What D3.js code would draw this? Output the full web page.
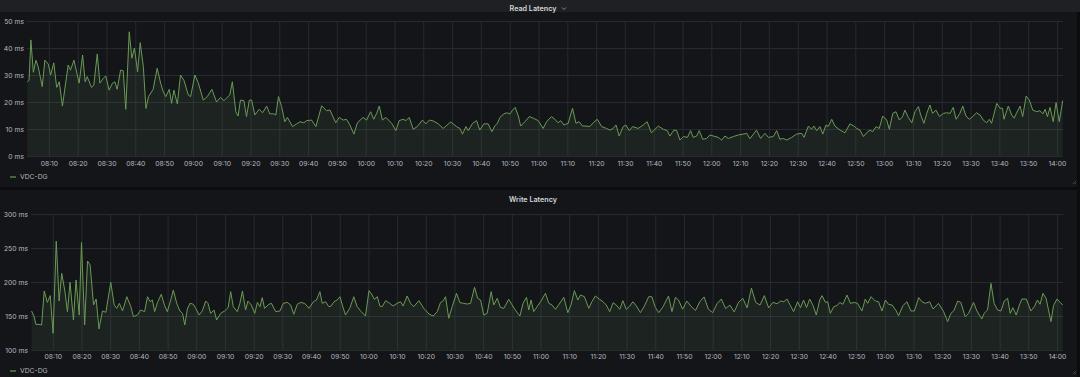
<!DOCTYPE html>
<html><head><meta charset="utf-8">
<script src="https://cdnjs.cloudflare.com/ajax/libs/d3/7.8.5/d3.min.js"></script>
<style>
body{margin:0;background:#0b0c0e;overflow:hidden;}
svg{display:block;font-family:Inter,"Noto Sans",sans-serif;}
</style>
</head><body>
<svg id="chart" width="1080" height="377"></svg>
<script>
const seriesName = "VDC-DG";
const panelTitles = ["Read Latency", "Write Latency"];
const timeTickLabels = ["08:10","08:20","08:30","08:40","08:50","09:00","09:10","09:20","09:30","09:40","09:50",
  "10:00","10:10","10:20","10:30","10:40","10:50","11:00","11:10","11:20","11:30","11:40","11:50",
  "12:00","12:10","12:20","12:30","12:40","12:50","13:00","13:10","13:20","13:30","13:40","13:50","14:00"];
const timeRange = ["08:02:24", "14:02:06"];
const readYTicks = [0,10,20,30,40,50];
const writeYTicks = [100,150,200,250,300];

// minutes after 08:00
const readMinutes = [2.5,3.1,3.75,4.6,5.5,6.3,7.7,8.6,9.8,10.6,11.7,12.7,13.6,14.7,16.7,17.5,18.7,20.5,21.7,22.6,23.3,24.8,25.6,26.8,27.7,28.9,29.8,30.9,32.1,32.9,33.7,34.9,35.8,36.7,37.9,38.8,39.7,40.8,41.7,42.8,43.7,44.6,46.2,47.6,48.8,49.7,50.6,51.8,52.6,53.4,54.6,55.7,56.9,58.4,59.2,60.7,61.9,63.6,65,66.6,68.2,69.6,70.8,72.8,73.7,74.9,75.7,76.5,77.7,78.6,79.6,80.4,81.5,83,84.2,85.6,86.7,88.1,88.8,89.7,90.8,91.9,92.8,94.6,96,97.2,
  98.5,99.5,101.2,102.7,104.7,106.4,107.6,109.6,110.8,112.2,113.3,114.5,115.9,117.1,119.1,120.3,121.7,122.8,123.8,124.7,125.8,127,129,130.5,131.6,133,134,135.1,136.5,137.9,139.7,140.9,142.1,143.4,145.2,146.9,149.5,151.5,152.7,153.6,154.8,155.6,157.1,158.5,159.6,161,162.5,163.8,164.8,165.7,166.6,168,168.9,170.1,171,171.9,173,173.8,175.3,176.8,178.2,179.9,181.6,182.8,184.5,185.7,186.8,187.7,188.8,190.3,191.8,193,194.1,195.3,196.5,197.8,199,200.4,201.9,203.6,204.8,205.9,206.9,208,209.4,210.3,211.5,212.7,214.6,216.4,217.7,219.2,
  221.6,223.3,224.7,225.6,227,228,229.1,230.3,231.7,232.8,233.7,234.9,235.8,237,238.4,239.5,240.7,242.4,243.6,244.7,245.9,247.6,249.4,251.1,252.3,253.4,254.6,255.7,257.1,258.6,259.8,261.5,262.7,263.8,265,266.2,267.9,269.6,271.4,272.2,273.7,274.8,275.6,276.6,277.7,278.7,279.8,280.6,281.8,282.9,284.7,286.4,288.1,289.5,290.5,291.6,292.8,293.9,295.1,296,297.2,298.3,299.5,300.9,301.8,303,304.1,305.3,306.4,307.2,308.4,309.6,310.7,311.9,312.7,313.8,314.8,315.9,316.8,318,319.2,320.6,321.7,322.9,324,325,326.3,327.3,328.4,329.6,330.7,332.1,333.3,334.4,335.6,336.5,337.3,339.1,340.2,341.1,341.6,343.1,344.3,345.1,346,347.2,348.1,349.3,350.4,351.6,353,354.1,355.1,355.9,356.7,357.6,358.7,359.7,360.8,362];
const readValues = [27.5,28,43,31,35.5,33,25.7,35.5,34,30,34.5,25.4,27.5,18.5,33.7,31.8,35.5,27,37.4,27.5,29.4,25.4,26.3,37.8,27,28.8,29.6,24.4,27,27.5,24.7,31.8,31.6,17.3,46,36.2,40,31.2,42,33,17.6,22,24.7,32.5,27,23.8,22,24.7,19.5,24.4,19.3,30,28,22.6,22,30,27,20.7,22,24.7,20,21.7,20.5,22.6,27.5,16.4,14.8,20.7,20.5,14.6,20.7,20.7,15.2,17.3,16,18.5,15.6,15.6,15.2,22,18.3,12.7,14.3,10.9,11.9,12.7,
  12.3,13.1,13.3,10.9,18.6,16.8,17,12.3,14.3,13.3,13.6,11.5,8.1,12.3,14.3,13.3,16.4,13.6,15.8,18.5,13.3,14.3,12.1,9.4,13.1,13.6,13.1,14.3,9.9,10.9,13.3,11.9,13.3,13,11.9,10.2,12.6,10.9,10.2,8.1,10.9,9.4,12.1,13.1,9.6,11.9,11.9,9,11.1,12.1,14.3,15.6,16,15.6,17,18,14.8,11.1,12.7,14.6,14,13.1,10.2,12.7,14.6,13.6,12.3,13.1,11.5,12.1,17.7,12.1,12.7,11.1,11.1,10.9,12.3,13.6,10.9,10.2,9.6,10.2,11.5,7.4,10.9,11.5,9.4,10.9,10.2,11.5,12.7,8.6,
  11.1,9.9,9.4,7.4,9.6,9.4,5.9,7.2,6.9,9.4,6.9,7.4,9.4,6.2,6.5,7.8,7.4,6.9,5.9,7.4,6.5,7.2,7.8,8.1,8.4,6.4,8.1,9.6,6.5,8.4,6.9,7.2,9.4,6.2,6.5,5.9,6.9,8.1,8.4,6.9,11.1,9.9,11.1,9.4,10.9,8.1,11.5,10.9,13.6,11.1,9.6,8.6,11.9,11.1,10.2,9.6,7.2,8.6,9.6,9,10.9,10.2,14.8,13.3,9.9,15.8,16.4,13.3,14.6,17,14.3,12.3,16.4,18.3,15.2,12.1,15.8,18.9,15.8,17,14.6,15.8,16,15.8,18,13.6,15.8,18.5,14.8,13.6,14.6,16,15.2,13.3,12.3,13.6,12.1,19.5,17.7,17.7,13.6,18.5,15.2,14,16,18.5,14.6,22.2,20.7,17,16.4,16.8,15.6,17.3,14.6,18,12.7,19.8,12.7,20.5];

const writeMinutes = [2.6,3.5,4.1,5.2,6.1,7,8.1,9.1,10.1,11.2,12.2,13.1,14.2,15.1,16,17.2,18.1,19.2,20,21.1,22.1,23,24.2,25.1,26.1,27.3,28.5,30.2,31.4,32.3,33.2,34.3,35.8,37.2,38.1,39.5,40.6,42,43,43.9,44.7,45.5,46.5,47.8,49,49.9,51.1,52,53.2,54.3,55.2,56,56.9,57.8,59,59.8,61,62.1,63.3,64.1,65,66.2,67.1,68.5,69.9,71.1,72,72.9,74.3,75.2,76.1,77.2,78,79.2,80.4,81.3,82.2,83,83.8,85.3,86.2,87.7,89.2,90.3,91.7,92.9,94,95.2,96.4,
  97.8,99.3,100.8,101.9,103.1,103.9,105.1,106.2,107,108,109.1,110.1,110.9,112,113.5,114.9,116.1,117.5,119,120.2,121.3,122.1,123.1,124,124.8,126,127.1,128.6,130,131.2,132.1,133.5,134.7,135.8,137.6,139.3,141.1,142.6,144,145.1,146.1,146.9,148,149.2,150.7,151.9,153.2,154.4,155.6,157,158.1,159.1,160.2,161.4,162.8,163.7,164.9,166,167.2,168.9,170.1,171.2,172.8,173.9,175.1,175.9,176.7,177.6,178.8,180,181.7,182.9,184,185.2,186.3,188.1,189.5,190.6,191.8,193,193.9,195.3,196.8,197.9,199.1,200.6,201.8,202.9,204.1,205.3,206.4,207.6,208.7,209.9,211.1,212.2,213.4,214.8,216.2,217.7,218.8,220,221.2,222.7,224.6,225.8,227,228.1,
  229.5,231,232.5,234,235.5,237,238.5,240,241.5,243,244.5,246,247.5,249,250.5,252,253.5,255,256.5,258,259.5,261,262.5,
  263.6,264.8,265.9,267.1,268.2,269.6,270.6,271.7,272.7,273.8,275,276.1,277.3,278.1,279.3,280.1,281,282.2,283.3,284.3,285.4,286.8,288,289.4,290.5,292,293.2,294,295.2,296.7,297.8,299,300.2,301.3,302.5,304,304.8,306.3,307.7,309.1,310.3,311.8,312.9,314.1,315.6,316.8,318.7,320.5,321.9,323,324,325.4,326.5,328,329.2,330.9,332.1,333.8,334.6,335.8,337,338.1,339.3,340.5,341.6,342.8,343.7,344.6,345.8,346.9,347.8,349.3,350.9,352.1,353.2,354.1,355.1,356.2,357.9,358.8,360,361.1,362];
const writeValues = [157.4,149,137.7,137.7,136.8,186.8,170,180,124.5,260,172,212.7,186.8,156.4,199.5,144,203,151.5,258.3,136.8,230.9,225,166.2,175,130.9,157.4,155.4,199.5,166.2,161.3,168.6,157.4,178.4,163.7,149,151.5,158.8,156.4,178.4,171,173.5,156.4,170,181.9,165.2,156.4,173.5,188.2,168.6,157.4,153.9,136.8,160.3,168.6,167.2,161.3,151.5,157.4,172,168.6,153.9,158.8,144.1,153.9,157.4,162.3,185.8,163.7,156.4,168.6,186.8,158.8,172,166.2,153.9,170,163.7,177,161.3,167.2,168.6,156.4,157.4,168.6,170,166.2,152.5,167.2,170,
  168.6,161.3,171,173.5,185.8,168.6,171,163.7,164.7,171,173.5,178.4,166.2,151.5,161.3,178.4,163.7,156.4,150,187.3,180.9,174.5,178.4,164.7,163.7,172.5,169.6,164.7,168.6,171,164.7,179.4,168.6,163.7,172.5,161.3,152.9,150,156.4,169.6,172.5,178.4,146.6,163.7,183.3,169.6,168.6,167.6,168.6,192.2,176,173.5,151.5,153.9,185.8,166.2,176,162.7,161.3,174.5,166.2,158.8,150,168.6,177.5,158.8,173.5,156.4,163.7,171,183.3,168.6,166.2,159.8,166.2,177.5,154.9,166.2,187.3,173.5,180.9,178.4,161.3,171,179.4,174.5,171,166.2,156.4,169.6,166.2,159.8,172.5,159.8,164.7,171,164.7,154.9,164.7,178.4,178.4,162.7,154.9,163.7,179.4,156.4,177.5,173.5,
  160,172,164,158,171,178,160,155,168,175,161,166,156,170,176,162,191,170,166,180,162,170,168,
  172,171,175,165.2,156.4,171,162.3,173.5,162.3,175,165.2,151.5,173.5,179.9,170,171,153.9,163.7,165.2,170,167.2,180.9,168.6,170,168.6,157.4,175,168.6,178.4,172,171,157.4,173.5,167.2,166.2,157.4,150.5,165.2,171,157.4,157.4,177,171,168.6,171,160.3,168.6,156.4,141.7,153.9,157.4,172,170,149,153.9,170,157.4,145.6,153.9,158.8,198,168.6,158.8,157.4,172,176,153.9,162.3,151.5,166.2,175,175,157.4,163.7,173.5,167.2,183.3,176,141.7,165.2,175,170,166.2];

const svg = d3.select("#chart");
const base = d3.timeParse("%H:%M")("08:00");
const toDate = m => new Date(base.getTime() + m * 60000);
const parseHMS = d3.timeParse("%H:%M:%S");
const parseHM = d3.timeParse("%H:%M");
const fmtHM = d3.timeFormat("%H:%M");

const lineColor = "#6a9a55";
const gridColor = "#272a2f";
const textColor = "#b4b9bf";

const panels = [
  {title: panelTitles[0], top: 0, height: 187, hover: true, titleY: 8.5, plotTop: 21, plotBottom: 156,
   left: 27, right: 1063, yDomain: [0, 50], yTicks: readYTicks, labelRight: 24, axisY: 164, legendY: 177,
   minutes: readMinutes, values: readValues},
  {title: panelTitles[1], top: 190, height: 187, hover: false, titleY: 199, plotTop: 214, plotBottom: 350,
   left: 31, right: 1063, yDomain: [100, 300], yTicks: writeYTicks, labelRight: 28, axisY: 357, legendY: 371,
   minutes: writeMinutes, values: writeValues}
];

panels.forEach(p => {
  const g = svg.append("g");
  g.append("rect").attr("x", 0).attr("y", p.top).attr("width", 1077).attr("height", p.height).attr("fill", "#131519");
  if (p.hover) {
    g.append("rect").attr("x", 0).attr("y", p.top).attr("width", 1080).attr("height", 12).attr("fill", "#1f2023");
  }
  g.append("text").attr("x", 533).attr("y", p.titleY).attr("dy", "0.35em")
    .attr("text-anchor", "middle").attr("font-size", 7.2).attr("font-weight", 600)
    .attr("fill", "#d4d6d9").text(p.title);
  if (p.hover) {
    g.append("path").attr("d", `M562,${p.titleY - 1} l2,2 l2,-2`).attr("fill", "none")
      .attr("stroke", "#9a9da2").attr("stroke-width", 0.8);
  }

  const x = d3.scaleTime().domain(timeRange.map(parseHMS)).range([p.left, p.right]);
  const y = d3.scaleLinear().domain(p.yDomain).range([p.plotBottom, p.plotTop]);
  const tickDates = timeTickLabels.map(parseHM);

  // grid
  g.append("g").attr("transform", `translate(0,${p.plotBottom})`)
    .call(d3.axisBottom(x).tickValues(tickDates).tickSize(-(p.plotBottom - p.plotTop)).tickFormat(""))
    .call(a => a.select(".domain").remove())
    .call(a => a.selectAll("line").attr("stroke", gridColor));
  g.append("g").attr("transform", `translate(${p.left},0)`)
    .call(d3.axisLeft(y).tickValues(p.yTicks).tickSize(-(p.right - p.left)).tickFormat(""))
    .call(a => a.select(".domain").remove())
    .call(a => a.selectAll("line").attr("stroke", gridColor));

  // area + line
  const data = p.minutes.map((m, i) => ({d: toDate(m), v: p.values[i]}));
  g.append("path").datum(data)
    .attr("d", d3.area().x(d => x(d.d)).y0(p.plotBottom).y1(d => y(d.v)))
    .attr("fill", "#7eb26d").attr("fill-opacity", 0.09);
  g.append("path").datum(data)
    .attr("d", d3.line().x(d => x(d.d)).y(d => y(d.v)))
    .attr("fill", "none").attr("stroke", lineColor).attr("stroke-width", 1).attr("stroke-linejoin", "round");

  // axis labels
  g.append("g").attr("transform", `translate(0,${p.axisY})`)
    .call(d3.axisBottom(x).tickValues(tickDates).tickSize(0).tickPadding(0).tickFormat(fmtHM))
    .call(a => a.select(".domain").remove())
    .call(a => a.selectAll("text").attr("dy", "0.35em").attr("y", 0).attr("font-size", 6.8)
      .attr("font-family", "Inter,'Noto Sans',sans-serif").attr("fill", textColor));
  g.append("g").attr("transform", `translate(${p.labelRight},0)`)
    .call(d3.axisLeft(y).tickValues(p.yTicks).tickSize(0).tickPadding(0).tickFormat(v => v + " ms"))
    .call(a => a.select(".domain").remove())
    .call(a => a.selectAll("text").attr("font-size", 6.8)
      .attr("font-family", "Inter,'Noto Sans',sans-serif").attr("fill", textColor));

  // legend
  g.append("line").attr("x1", 10).attr("x2", 16).attr("y1", p.legendY).attr("y2", p.legendY)
    .attr("stroke", lineColor).attr("stroke-width", 1.2);
  g.append("text").attr("x", 20).attr("y", p.legendY).attr("dy", "0.35em")
    .attr("font-size", 6.8).attr("fill", textColor).text(seriesName);
});
// resize handles
[184, 374].forEach(yy => {
  svg.append("path").attr("d", `M1073,${yy} l3,-3 M1075,${yy} l1,-1`).attr("stroke", "#555a60").attr("stroke-width", 0.7);
});
</script>
</body></html>
